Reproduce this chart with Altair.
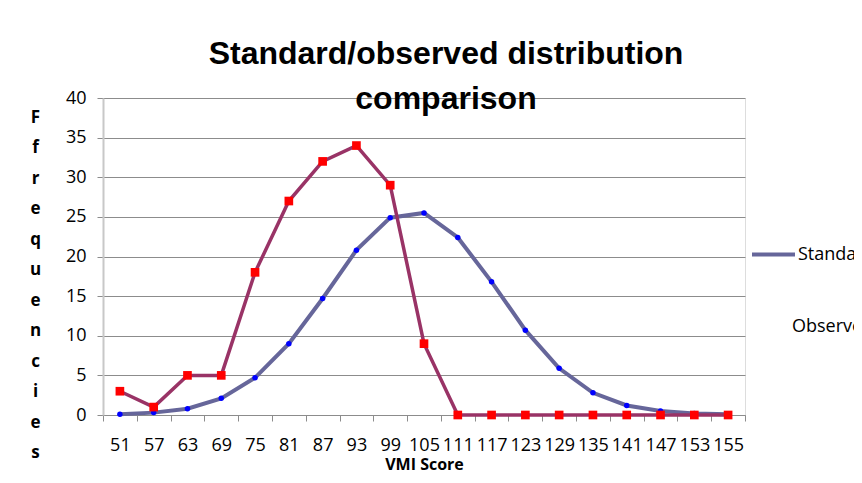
import altair as alt
import pandas as pd

scores = ["51", "57", "63", "69", "75", "81", "87", "93", "99", "105", "111",
          "117", "123", "129", "135", "141", "147", "153", "155"]
standard = [0.1, 0.3, 0.8, 2.1, 4.7, 9.0, 14.7, 20.8, 24.9, 25.5, 22.4,
            16.8, 10.7, 5.9, 2.8, 1.2, 0.5, 0.2, 0.1]
observed = [3, 1, 5, 5, 18, 27, 32, 34, 29, 9, 0,
            0, 0, 0, 0, 0, 0, 0, 0]
series_names = ["Standard", "Observed"]
line_colors = ["#66669A", "#993366"]
marker_colors = ["#0000FF", "#FF0000"]
y_title_letters = ["F", "f", "r", "e", "q", "u", "e", "n", "c", "i", "e", "s"]

rows = []
for s, v in zip(scores, standard):
    rows.append({"Score": s, "Value": v, "Series": "Standard"})
for s, v in zip(scores, observed):
    rows.append({"Score": s, "Value": v, "Series": "Observed"})
df = pd.DataFrame(rows)

FONT = "Open Sans"

x_enc = alt.X(
    "Score:N",
    sort=scores,
    scale=alt.Scale(type="band", paddingInner=0, paddingOuter=0),
    axis=alt.Axis(
        title="VMI Score",
        titleFont=FONT,
        titleFontSize=16,
        titleFontWeight="bold",
        titleColor="#000000",
        titlePadding=2,
        labelAngle=0,
        labelFont=FONT,
        labelFontSize=18,
        labelColor="#000000",
        labelPadding=15,
        labelOverlap=False,
        tickBand="extent",
        tickSize=6,
        tickColor="#8C8C8C",
        domainColor="#8C8C8C",
        grid=False,
    ),
)

y_enc = alt.Y(
    "Value:Q",
    scale=alt.Scale(domain=[0, 40], nice=False),
    axis=alt.Axis(
        values=[0, 5, 10, 15, 20, 25, 30, 35, 40],
        title=y_title_letters,
        titleAngle=0,
        titleFont=FONT,
        titleFontSize=17,
        titleFontWeight="bold",
        titleColor="#000000",
        titleAlign="center",
        titleBaseline="top",
        titleLineHeight=30.5,
        titleX=-68,
        titleY=11,
        labelFont=FONT,
        labelFontSize=18,
        labelColor="#000000",
        labelPadding=11,
        tickSize=6,
        tickColor="#8C8C8C",
        domainColor="#C8C8C8",
        domainWidth=2,
        grid=True,
        gridColor="#8C8C8C",
        gridWidth=1,
    ),
)

base = alt.Chart(df)

std_line = base.transform_filter(alt.datum.Series == "Standard").mark_line(
    strokeWidth=4
).encode(
    x=x_enc,
    y=y_enc,
    color=alt.Color(
        "Series:N",
        scale=alt.Scale(domain=[series_names[0]], range=[line_colors[0]]),
        legend=alt.Legend(
            title=None,
            orient="none",
            legendX=647,
            legendY=133,
            symbolType="stroke",
            symbolSize=1849,
            symbolStrokeWidth=4,
            labelFont=FONT,
            labelFontSize=18,
            labelColor="#000000",
            labelOffset=1,
        ),
    ),
)

std_pts = base.transform_filter(alt.datum.Series == "Standard").mark_point(
    shape="circle", filled=True, size=30, color=marker_colors[0], opacity=1
).encode(x=x_enc, y=y_enc)

obs_line = base.transform_filter(alt.datum.Series == "Observed").mark_line(
    strokeWidth=3.5, color=line_colors[1]
).encode(x=x_enc, y=y_enc)

obs_pts = base.transform_filter(alt.datum.Series == "Observed").mark_point(
    filled=True, size=75, color=marker_colors[1], opacity=1
).encode(
    x=x_enc,
    y=y_enc,
    shape=alt.Shape(
        "Series:N",
        scale=alt.Scale(domain=[series_names[1]], range=["square"]),
        legend=alt.Legend(
            title=None,
            orient="none",
            legendX=671,
            legendY=220,
            symbolSize=4,
            symbolOpacity=0,
            labelFont=FONT,
            labelFontSize=18,
            labelColor="#000000",
            labelOffset=0,
        ),
    ),
)

chart = alt.layer(std_line, std_pts, obs_line, obs_pts).properties(
    width=642,
    height=317,
    title=alt.TitleParams(
        text=["Standard/observed distribution", "comparison"],
        font="Liberation Sans",
        fontSize=32,
        fontWeight="bold",
        color="#000000",
        anchor="middle",
        frame="group",
        dx=22,
        lineHeight=45,
        offset=-27,
    ),
    autosize=alt.AutoSizeParams(type="none"),
    padding={"left": 95, "top": 90, "right": 109, "bottom": 60},
).configure_view(stroke=None).configure(background="#FFFFFF")

chart.save("out.html", embed_options={"renderer": "svg", "actions": False})
